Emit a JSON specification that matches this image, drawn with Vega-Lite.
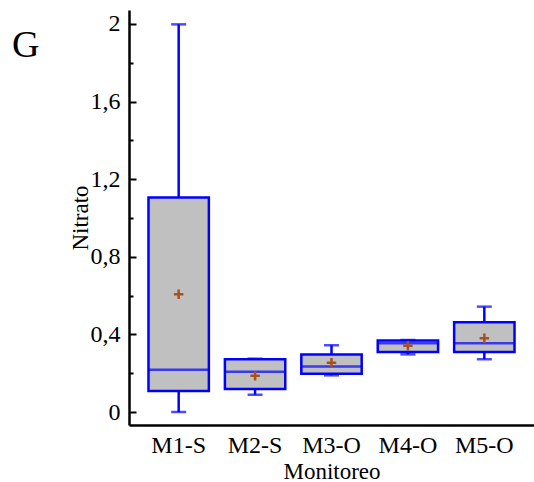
{
  "$schema": "https://vega.github.io/schema/vega-lite/v6.json",
  "width": 405,
  "height": 415,
  "autosize": {"type": "none"},
  "padding": {"left": 129, "top": 10, "right": 0, "bottom": 57},
  "background": "white",
  "title": {"text": "G", "anchor": "start", "frame": "group", "orient": "none", "font": "Liberation Serif", "fontSize": 38, "fontWeight": "normal", "color": "black", "baseline": "alphabetic", "offset": 0, "dx": -117, "dy": 47},
  "config": {"view": {"stroke": null}},
  "data": {"values": [
    {"Monitoreo": "M1-S", "min": 0.0, "q1": 0.108, "median": 0.218, "q3": 1.105, "max": 1.998, "mean": 0.607},
    {"Monitoreo": "M2-S", "min": 0.089, "q1": 0.118, "median": 0.208, "q3": 0.272, "max": 0.275, "mean": 0.187},
    {"Monitoreo": "M3-O", "min": 0.189, "q1": 0.197, "median": 0.235, "q3": 0.297, "max": 0.344, "mean": 0.254},
    {"Monitoreo": "M4-O", "min": 0.297, "q1": 0.309, "median": 0.354, "q3": 0.369, "max": 0.371, "mean": 0.342},
    {"Monitoreo": "M5-O", "min": 0.272, "q1": 0.309, "median": 0.354, "q3": 0.462, "max": 0.543, "mean": 0.38}
  ]},
  "encoding": {
    "x": {
      "field": "Monitoreo", "type": "nominal", "sort": null,
      "scale": {"paddingInner": 0.21, "paddingOuter": 0.255},
      "axis": {"title": "Monitoreo", "labelAngle": 0, "ticks": false, "domainColor": "black", "domainWidth": 2.5, "labelFont": "Liberation Serif", "labelFontSize": 24, "labelColor": "black", "labelPadding": 8, "titleFont": "Liberation Serif", "titleFontSize": 23, "titleFontWeight": "normal", "titleColor": "black", "titlePadding": 3}
    }
  },
  "layer": [
    {
      "mark": {"type": "rule", "color": "#0000ff", "strokeWidth": 2.5},
      "encoding": {
        "y": {"field": "min", "type": "quantitative", "title": "Nitrato", "scale": {"domain": [-0.067, 2.072], "nice": false, "zero": false},
          "axis": {"values": [0, 0.1, 0.2, 0.3, 0.4, 0.5, 0.6, 0.7, 0.8, 0.9, 1, 1.1, 1.2, 1.3, 1.4, 1.5, 1.6, 1.7, 1.8, 1.9, 2],
            "labelExpr": "indexof([0, 0.4, 0.8, 1.2, 1.6, 2], datum.value) >= 0 ? replace(toString(datum.value), '.', ',') : ''",
            "tickSize": {"condition": {"test": "indexof([0, 0.4, 0.8, 1.2, 1.6, 2], datum.value) >= 0", "value": -7}, "value": -4},
            "tickWidth": 2, "tickColor": "black", "domainColor": "black", "domainWidth": 2.5, "grid": false,
            "labelFont": "Liberation Serif", "labelFontSize": 24, "labelColor": "black", "labelPadding": 16, "labelOverlap": false,
            "titleFont": "Liberation Serif", "titleFontSize": 23, "titleFontWeight": "normal", "titleColor": "black", "titlePadding": -2}},
        "y2": {"field": "q1"}
      }
    },
    {
      "mark": {"type": "rule", "color": "#0000ff", "strokeWidth": 2.5},
      "encoding": {
        "y": {"field": "q3", "type": "quantitative", "title": "Nitrato"},
        "y2": {"field": "max"}
      }
    },
    {
      "mark": {"type": "bar", "fill": "#c0c0c0", "stroke": "#0000ff", "strokeWidth": 2.5},
      "encoding": {
        "y": {"field": "q1", "type": "quantitative", "title": "Nitrato"},
        "y2": {"field": "q3"}
      }
    },
    {
      "mark": {"type": "tick", "color": "#0000ff", "size": 60, "thickness": 2.5, "orient": "horizontal"},
      "encoding": {"y": {"field": "median", "type": "quantitative", "title": "Nitrato"}}
    },
    {
      "mark": {"type": "tick", "color": "#0000ff", "size": 15, "thickness": 2.5, "orient": "horizontal"},
      "encoding": {"y": {"field": "min", "type": "quantitative", "title": "Nitrato"}}
    },
    {
      "mark": {"type": "tick", "color": "#0000ff", "size": 15, "thickness": 2.5, "orient": "horizontal"},
      "encoding": {"y": {"field": "max", "type": "quantitative", "title": "Nitrato"}}
    },
    {
      "mark": {"type": "point", "shape": "M-1,0L1,0M0,-1L0,1", "size": 90, "filled": false, "stroke": "#a5521e", "strokeWidth": 2.5, "opacity": 1},
      "encoding": {"y": {"field": "mean", "type": "quantitative", "title": "Nitrato"}}
    }
  ]
}
